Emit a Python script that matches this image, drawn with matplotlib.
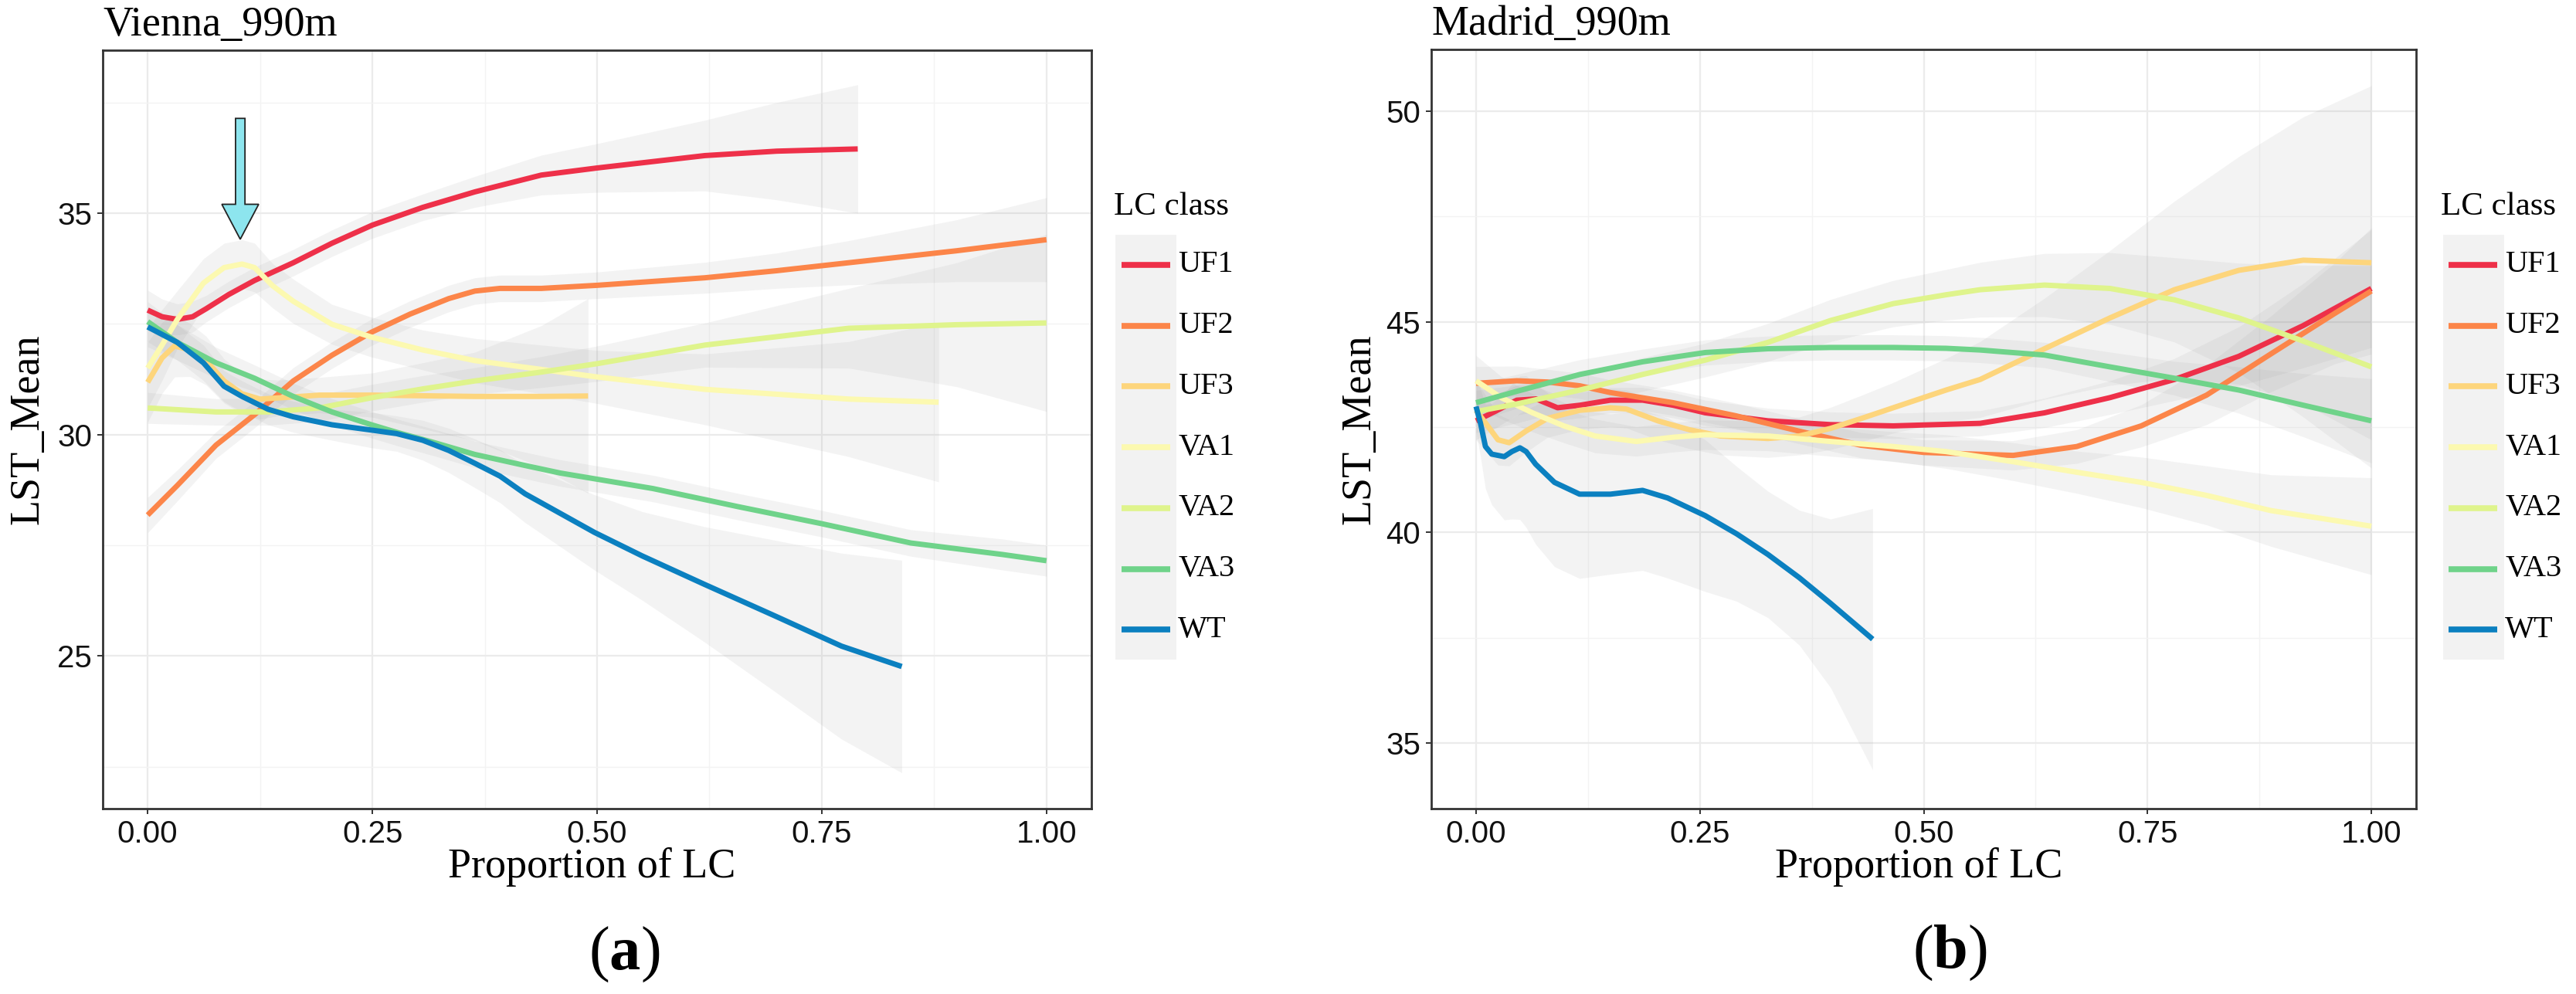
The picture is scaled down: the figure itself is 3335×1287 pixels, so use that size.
import matplotlib
matplotlib.use("Agg")
import matplotlib.pyplot as plt
from matplotlib.lines import Line2D
from matplotlib.patches import Rectangle, FancyArrow
import numpy as np

plt.rcParams['mathtext.fontset'] = 'custom'
plt.rcParams['mathtext.rm'] = 'Liberation Serif'
plt.rcParams['mathtext.bf'] = 'Liberation Serif:bold'

classes = ['UF1', 'UF2', 'UF3', 'VA1', 'VA2', 'VA3', 'WT']
colors = ['#EE3049', '#FC8549', '#FDD57C', '#FCF9B0', '#DFF48C', '#6FD38A', '#0B80C0']

# ---- Vienna_990m : smoothed LST_Mean vs proportion of LC, with +/- band
vie_uf1_x = [0, 0.016, 0.033, 0.05, 0.065, 0.09, 0.119, 0.162, 0.205, 0.25, 0.306, 0.364, 0.438, 0.50, 0.62, 0.70, 0.79]
vie_uf1_y = [32.81, 32.66, 32.6, 32.66, 32.84, 33.16, 33.48, 33.88, 34.32, 34.73, 35.13, 35.48, 35.86, 36.02, 36.3, 36.4, 36.45]
vie_uf1_se = [0.45, 0.4, 0.35, 0.35, 0.3, 0.3, 0.3, 0.3, 0.3, 0.3, 0.3, 0.35, 0.45, 0.55, 0.8, 1.1, 1.45]

vie_uf2_x = [0, 0.033, 0.076, 0.119, 0.162, 0.205, 0.249, 0.292, 0.335, 0.364, 0.392, 0.438, 0.50, 0.62, 0.70, 0.78, 0.90, 1.0]
vie_uf2_y = [28.18, 28.85, 29.76, 30.45, 31.21, 31.79, 32.31, 32.72, 33.07, 33.24, 33.3, 33.3, 33.37, 33.54, 33.7, 33.88, 34.15, 34.4]
vie_uf2_se = [0.4, 0.35, 0.3, 0.3, 0.3, 0.3, 0.3, 0.3, 0.3, 0.3, 0.3, 0.3, 0.3, 0.35, 0.4, 0.5, 0.7, 0.95]

vie_uf3_x = [0, 0.016, 0.03, 0.047, 0.065, 0.085, 0.105, 0.125, 0.148, 0.191, 0.25, 0.364, 0.438, 0.49]
vie_uf3_y = [31.18, 31.73, 32.0, 31.91, 31.67, 31.21, 30.92, 30.8, 30.83, 30.89, 30.89, 30.86, 30.86, 30.87]
vie_uf3_se = [0.9, 0.8, 0.7, 0.6, 0.55, 0.5, 0.45, 0.45, 0.4, 0.4, 0.5, 1.0, 1.6, 2.2]

vie_va1_x = [0, 0.016, 0.033, 0.062, 0.085, 0.105, 0.119, 0.139, 0.162, 0.205, 0.249, 0.306, 0.364, 0.438,
             0.50, 0.62, 0.78, 0.88]
vie_va1_y = [31.5, 32.02, 32.6, 33.42, 33.77, 33.85, 33.77, 33.36, 33.01, 32.49, 32.2, 31.91, 31.67, 31.47,
             31.3, 31.02, 30.8, 30.73]
vie_va1_se = [0.9, 0.8, 0.65, 0.55, 0.55, 0.55, 0.55, 0.5, 0.5, 0.45, 0.45, 0.45, 0.5, 0.55,
              0.6, 0.8, 1.3, 1.8]

vie_va2_x = [0, 0.076, 0.134, 0.191, 0.249, 0.306, 0.364, 0.438, 0.5, 0.62, 0.78, 0.9, 1.0]
vie_va2_y = [30.6, 30.51, 30.51, 30.6, 30.83, 31.03, 31.21, 31.41, 31.6, 32.02, 32.4, 32.48, 32.52]
vie_va2_se = [0.35, 0.3, 0.3, 0.3, 0.3, 0.3, 0.3, 0.35, 0.4, 0.5, 0.9, 1.4, 2.0]

vie_va3_x = [0, 0.033, 0.076, 0.119, 0.162, 0.205, 0.249, 0.277, 0.32, 0.364, 0.42, 0.459, 0.562, 0.657,
             0.749, 0.849, 0.951, 1.0]
vie_va3_y = [32.55, 32.08, 31.62, 31.27, 30.86, 30.51, 30.22, 30.05, 29.81, 29.55, 29.3, 29.13, 28.78, 28.37,
             27.99, 27.55, 27.29, 27.15]
vie_va3_se = [0.45, 0.4, 0.35, 0.3, 0.3, 0.3, 0.3, 0.3, 0.3, 0.3, 0.3, 0.3, 0.3, 0.3,
              0.3, 0.3, 0.35, 0.35]

vie_wt_x = [0, 0.033, 0.062, 0.085, 0.105, 0.134, 0.162, 0.205, 0.249, 0.277, 0.306, 0.335, 0.364, 0.392,
            0.42, 0.497, 0.55, 0.619, 0.696, 0.772, 0.839]
vie_wt_y = [32.43, 32.08, 31.62, 31.09, 30.86, 30.57, 30.4, 30.22, 30.1, 30.02, 29.87, 29.64, 29.35, 29.06,
            28.66, 27.79, 27.26, 26.62, 25.92, 25.22, 24.76]
vie_wt_se = [0.45, 0.4, 0.4, 0.35, 0.35, 0.35, 0.35, 0.35, 0.4, 0.4, 0.45, 0.5, 0.55, 0.6,
             0.65, 0.85, 1.0, 1.3, 1.7, 2.1, 2.4]

# ---- Madrid_990m
mad_uf1_x = [0, 0.021, 0.0455, 0.067, 0.091, 0.116, 0.15, 0.186, 0.22, 0.256, 0.326, 0.396, 0.466,
             0.563, 0.635, 0.708, 0.78, 0.852, 0.924, 1.0]
mad_uf1_y = [42.65, 42.87, 43.14, 43.17, 42.96, 43.02, 43.14, 43.14, 43.02, 42.84, 42.65, 42.56, 42.53,
             42.59, 42.84, 43.2, 43.63, 44.18, 44.91, 45.79]
mad_uf1_se = [0.45, 0.4, 0.35, 0.3, 0.3, 0.3, 0.3, 0.3, 0.3, 0.3, 0.3, 0.3, 0.3,
              0.3, 0.35, 0.4, 0.5, 0.7, 1.0, 1.4]

mad_uf2_x = [0, 0.0455, 0.08, 0.116, 0.15, 0.22, 0.29, 0.36, 0.43, 0.50, 0.60, 0.671, 0.743, 0.816, 0.888, 0.96, 1.0]
mad_uf2_y = [43.54, 43.6, 43.57, 43.48, 43.32, 43.08, 42.77, 42.41, 42.07, 41.9, 41.83, 42.04, 42.53, 43.26, 44.24, 45.21, 45.73]
mad_uf2_se = [0.4, 0.35, 0.3, 0.3, 0.3, 0.3, 0.3, 0.3, 0.3, 0.3, 0.35, 0.4, 0.5, 0.7, 0.9, 1.2, 1.5]

mad_uf3_x = [0, 0.0245, 0.037, 0.056, 0.08, 0.116, 0.15, 0.168, 0.203, 0.238, 0.273, 0.326, 0.361, 0.396,
             0.431, 0.466, 0.525, 0.563, 0.635, 0.708, 0.78, 0.852, 0.924, 1.0]
mad_uf3_y = [42.9, 42.2, 42.13, 42.41, 42.71, 42.9, 42.96, 42.93, 42.65, 42.44, 42.29, 42.23, 42.29, 42.47,
             42.71, 42.96, 43.38, 43.63, 44.36, 45.09, 45.76, 46.22, 46.46, 46.4]
mad_uf3_se = [0.7, 0.6, 0.55, 0.5, 0.45, 0.45, 0.45, 0.45, 0.45, 0.45, 0.45, 0.45, 0.45, 0.5,
              0.55, 0.6, 0.75, 0.9, 1.2, 1.6, 2.1, 2.7, 3.4, 4.2]

mad_va1_x = [0, 0.028, 0.063, 0.098, 0.133, 0.179, 0.22, 0.256, 0.326, 0.396, 0.466, 0.525, 0.6, 0.671,
             0.743, 0.816, 0.888, 1.0]
mad_va1_y = [43.6, 43.2, 42.84, 42.53, 42.29, 42.16, 42.26, 42.32, 42.29, 42.16, 42.04, 41.92, 41.68, 41.43,
             41.19, 40.88, 40.52, 40.15]
mad_va1_se = [0.6, 0.5, 0.45, 0.4, 0.4, 0.35, 0.35, 0.35, 0.35, 0.35, 0.35, 0.4, 0.45, 0.5,
              0.6, 0.7, 0.85, 1.15]

mad_va2_x = [0, 0.0455, 0.116, 0.186, 0.256, 0.326, 0.396, 0.466, 0.525, 0.563, 0.635, 0.708, 0.78, 0.852, 0.924, 1.0]
mad_va2_y = [42.87, 43.05, 43.38, 43.75, 44.09, 44.51, 45.03, 45.43, 45.64, 45.76, 45.87, 45.79, 45.52, 45.09, 44.54, 43.93]
mad_va2_se = [0.5, 0.45, 0.4, 0.4, 0.4, 0.45, 0.5, 0.55, 0.6, 0.65, 0.75, 0.85, 1.0, 1.3, 1.8, 2.4]

mad_va3_x = [0, 0.0455, 0.116, 0.186, 0.256, 0.326, 0.396, 0.466, 0.525, 0.563, 0.635, 0.708, 0.78, 0.852, 0.924, 1.0]
mad_va3_y = [43.08, 43.35, 43.75, 44.05, 44.27, 44.36, 44.39, 44.39, 44.37, 44.33, 44.21, 43.93, 43.66, 43.38, 43.02, 42.65]
mad_va3_se = [0.45, 0.4, 0.35, 0.3, 0.3, 0.3, 0.3, 0.3, 0.3, 0.3, 0.3, 0.35, 0.4, 0.55, 0.75, 1.0]

mad_wt_x = [0, 0.005, 0.0105, 0.0175, 0.0315, 0.04, 0.049, 0.056, 0.0666, 0.0876, 0.1156, 0.15, 0.186,
            0.214, 0.256, 0.291, 0.326, 0.361, 0.396, 0.443]
mad_wt_y = [42.99, 42.59, 42.04, 41.86, 41.8, 41.92, 42.01, 41.92, 41.62, 41.19, 40.91, 40.91, 41.0,
            40.82, 40.4, 39.97, 39.48, 38.93, 38.32, 37.47]
mad_wt_se = [0.6, 0.8, 1.0, 1.2, 1.5, 1.6, 1.7, 1.8, 1.9, 2.0, 2.0, 1.9, 1.9,
             1.9, 1.8, 1.6, 1.5, 1.6, 2.0, 3.1]

vienna = [(vie_uf1_x, vie_uf1_y, vie_uf1_se), (vie_uf2_x, vie_uf2_y, vie_uf2_se),
          (vie_uf3_x, vie_uf3_y, vie_uf3_se), (vie_va1_x, vie_va1_y, vie_va1_se),
          (vie_va2_x, vie_va2_y, vie_va2_se), (vie_va3_x, vie_va3_y, vie_va3_se),
          (vie_wt_x, vie_wt_y, vie_wt_se)]
madrid = [(mad_uf1_x, mad_uf1_y, mad_uf1_se), (mad_uf2_x, mad_uf2_y, mad_uf2_se),
          (mad_uf3_x, mad_uf3_y, mad_uf3_se), (mad_va1_x, mad_va1_y, mad_va1_se),
          (mad_va2_x, mad_va2_y, mad_va2_se), (mad_va3_x, mad_va3_y, mad_va3_se),
          (mad_wt_x, mad_wt_y, mad_wt_se)]

W, H = 3335, 1287
fig = plt.figure(figsize=(W / 100, H / 100), dpi=100)

SERIF = 'Liberation Serif'
SANS = 'Liberation Sans'


def px(x0, y0, x1, y1):
    # pixel box (top-down) -> figure fraction rect
    return [x0 / W, 1 - y1 / H, (x1 - x0) / W, (y1 - y0) / H]


def panel(rect, series, title, ylim, yticks, yminor, ylab_x):
    ax = fig.add_axes(rect)
    ax.set_xlim(-0.05, 1.05)
    ax.set_ylim(*ylim)
    ax.set_xticks([0, 0.25, 0.5, 0.75, 1.0])
    ax.set_xticklabels(['0.00', '0.25', '0.50', '0.75', '1.00'])
    ax.set_xticks([0.125, 0.375, 0.625, 0.875], minor=True)
    ax.set_yticks(yticks)
    ax.set_yticks(yminor, minor=True)
    ax.grid(which='major', color='#EBEBEB', lw=1.6, zorder=0)
    ax.grid(which='minor', color='#F3F3F3', lw=1.0, zorder=0)
    ax.set_axisbelow(True)
    ax.tick_params(which='major', direction='out', length=5, width=1.4, color='#333333',
                   labelsize=29, labelcolor='#111111', pad=5)
    ax.tick_params(which='minor', length=0)
    for lab in ax.get_xticklabels() + ax.get_yticklabels():
        lab.set_fontfamily(SANS)
    for s in ax.spines.values():
        s.set_color('#333333')
        s.set_linewidth(2.0)

    for (x, y, se) in series:
        x = np.asarray(x)
        y = np.asarray(y)
        se = np.asarray(se)
        ax.fill_between(x, y - se, y + se, color='#999999', alpha=0.11, lw=0, zorder=1)
    for (x, y, se), c in zip(series, colors):
        ax.plot(x, y, color=c, lw=5.0, solid_capstyle='butt', solid_joinstyle='round', zorder=3)

    ax.set_title(title, loc='left', fontsize=39, fontfamily=SERIF, pad=13.5)
    ax.set_xlabel('Proportion of LC', fontsize=39, fontfamily=SERIF)
    ax.xaxis.set_label_coords(0.495, -0.051)
    ax.set_ylabel('LST_Mean', fontsize=39, fontfamily=SERIF)
    ax.yaxis.set_label_coords(ylab_x, 0.5)
    return ax


def legend(x_title, x_box, x_line0, x_line1, x_lab):
    fig.text(x_title / W, 1 - 268 / H, 'LC class', fontsize=31, fontfamily=SERIF,
             ha='left', va='center')
    fig.add_artist(Rectangle((x_box / W, 1 - 854 / H), 79 / W, 550 / H,
                             transform=fig.transFigure, color='#F2F2F2', lw=0, zorder=0))
    for i, (name, c) in enumerate(zip(classes, colors)):
        yy = 1 - (343 + i * 78.7) / H
        fig.add_artist(Line2D([x_line0 / W, x_line1 / W], [yy, yy], transform=fig.transFigure,
                              color=c, lw=5.5, solid_capstyle='butt'))
        fig.text(x_lab / W, yy, name, fontsize=29, fontfamily=SERIF, ha='left', va='center')


ax1 = panel(px(133, 65, 1413, 1047), vienna, 'Vienna_990m', (21.55, 38.68),
            [25, 30, 35], [22.5, 27.5, 32.5, 37.5], -0.056)
ax2 = panel(px(1853, 64, 3128, 1047), madrid, 'Madrid_990m', (33.45, 51.46),
            [35, 40, 45, 50], [37.5, 42.5, 47.5], -0.053)

# cyan arrow marking the VA1 peak in Vienna
ax1.add_patch(FancyArrow(0.103, 37.14, 0, -2.73, width=0.0105, head_width=0.041, head_length=0.79,
                         length_includes_head=True, fc='#8DE5EE', ec='#222222', lw=1.3, zorder=5))

legend(1442, 1444, 1452, 1515, 1525)
legend(3160, 3163, 3170, 3233, 3243)

fig.text(808 / W, 1 - 1236 / H, r'($\mathbf{a}$)', fontsize=58, fontfamily=SERIF, ha='center', va='center')
fig.text(2524 / W, 1 - 1234 / H, r'($\mathbf{b}$)', fontsize=58, fontfamily=SERIF, ha='center', va='center')

fig.savefig('out.png', dpi=100)
